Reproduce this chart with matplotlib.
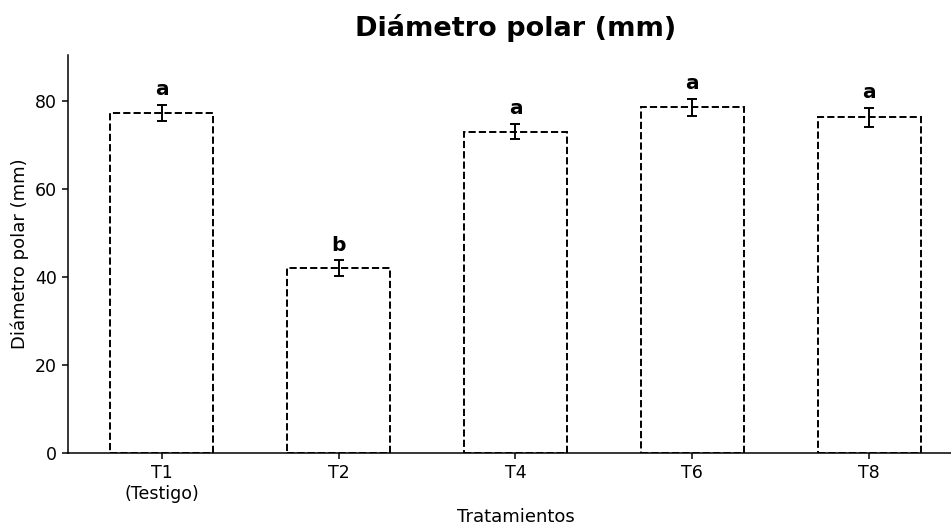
import matplotlib
matplotlib.use("Agg")
import matplotlib.pyplot as plt
import numpy as np

categories = ["T1\n(Testigo)", "T2", "T4", "T6", "T8"]
means = [77.3, 42.0, 73.1, 78.6, 76.3]
errors = [1.8, 1.8, 1.7, 2.0, 2.1]
letters = ["a", "b", "a", "a", "a"]

fig = plt.figure(figsize=(9.51, 5.27), dpi=100)
ax = fig.add_axes([68/951, 74/527, (963-68)/951, (472-74)/527])

x = np.arange(len(categories))
ax.bar(x, means, width=0.58, color="white", edgecolor="black",
       linestyle="--", linewidth=1.4)
ax.errorbar(x, means, yerr=errors, fmt="none", ecolor="black",
            capsize=3.5, elinewidth=1.4, capthick=1.4)
for xi, m, e, l in zip(x, means, errors, letters):
    ax.text(xi, m + e + 1.3, l, ha="center", va="bottom",
            fontsize=14.5, fontweight="bold")

ax.set_xticks(x)
ax.set_xticklabels(categories, fontsize=12.5)
ax.tick_params(axis="y", labelsize=12.5)
ax.tick_params(width=1.1, length=4.5)
for s in ("left", "bottom"):
    ax.spines[s].set_linewidth(1.1)
ax.set_ylim(0, 90.5)
ax.set_xlim(-0.53, 4.53)
ax.spines["top"].set_visible(False)
ax.spines["right"].set_visible(False)
ax.set_ylabel("Diámetro polar (mm)", fontsize=13)
ax.set_xlabel("Tratamientos", fontsize=13)
ax.set_title("Diámetro polar (mm)", fontsize=19.5, fontweight="bold", pad=14)

fig.savefig("out.png", dpi=100)
